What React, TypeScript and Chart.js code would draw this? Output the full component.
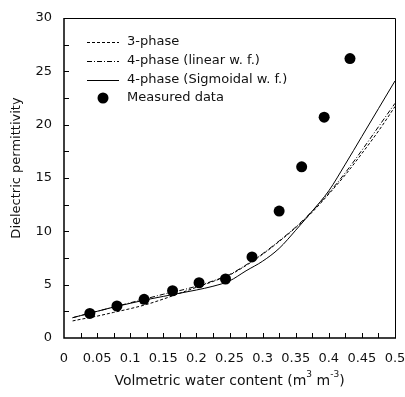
import React, { useEffect, useRef } from "react";
import { Chart, registerables } from "chart.js";

Chart.register(...registerables);

// ---- data ----
const curveTheta = [0.013, 0.025, 0.05, 0.075, 0.1, 0.125, 0.15, 0.175, 0.2, 0.225, 0.25, 0.275, 0.3, 0.325, 0.35, 0.375, 0.4, 0.425, 0.45, 0.475, 0.5];
const threePhase = [1.6, 1.75, 2.05, 2.4, 2.75, 3.15, 3.65, 4.2, 4.75, 5.3, 5.9, 6.8, 7.85, 9.05, 10.35, 11.8, 13.5, 15.3, 17.3, 19.4, 21.7];
const fourPhaseLinear = [1.9, 2.1, 2.5, 2.9, 3.3, 3.7, 4.1, 4.45, 4.85, 5.35, 5.95, 6.85, 7.9, 9.1, 10.4, 11.9, 13.6, 15.5, 17.6, 19.8, 22.0];
const fourPhaseSigmoidal = [1.9, 2.1, 2.5, 2.9, 3.25, 3.6, 3.9, 4.2, 4.5, 4.85, 5.35, 6.3, 7.2, 8.4, 10.1, 11.9, 13.8, 16.3, 18.9, 21.5, 24.1];
const measuredTheta = [0.039, 0.08, 0.121, 0.164, 0.204, 0.244, 0.284, 0.325, 0.359, 0.393, 0.432];
const measuredEps = [2.3, 3.0, 3.63, 4.43, 5.18, 5.53, 7.6, 11.9, 16.05, 20.7, 26.2];
const xTicks = [0, 0.05, 0.1, 0.15, 0.2, 0.25, 0.3, 0.35, 0.4, 0.45, 0.5];
const yTicks = [0, 5, 10, 15, 20, 25, 30];
const seriesLabels = ["3-phase", "4-phase (linear w. f.)", "4-phase (Sigmoidal w. f.)", "Measured data"];
const yTitle = "Dielectric permittivity";

const FONT = "'DejaVu Sans', sans-serif";
const dashes: number[][] = [[3, 2], [5, 2, 1, 2], []];

const decorPlugin = {
  id: "decor",
  afterDraw(chart: any) {
    const ctx = chart.ctx as CanvasRenderingContext2D;
    const { left, right, top, bottom } = chart.chartArea;
    const xs = chart.scales.x;
    const ys = chart.scales.y;
    ctx.save();
    ctx.strokeStyle = "#000";
    // box
    ctx.lineWidth = 1;
    ctx.beginPath();
    ctx.moveTo(left, top + 0.5);
    ctx.lineTo(right + 0.5, top + 0.5);
    ctx.lineTo(right + 0.5, bottom);
    ctx.stroke();
    ctx.lineWidth = 1.5;
    ctx.beginPath();
    ctx.moveTo(left, top);
    ctx.lineTo(left, bottom);
    ctx.lineTo(right + 1, bottom);
    ctx.stroke();
    // inward ticks
    ctx.lineWidth = 1;
    ctx.beginPath();
    for (let i = 0; i < xTicks.length; i++) {
      const vals = [xTicks[i]];
      if (i < xTicks.length - 1) vals.push((xTicks[i] + xTicks[i + 1]) / 2);
      for (const v of vals) {
        if (v === 0) continue;
        const px = Math.round(xs.getPixelForValue(v)) + 0.5;
        ctx.moveTo(px, bottom);
        ctx.lineTo(px, bottom - 5);
      }
    }
    for (let i = 0; i < yTicks.length; i++) {
      const vals = [yTicks[i]];
      if (i < yTicks.length - 1) vals.push((yTicks[i] + yTicks[i + 1]) / 2);
      for (const v of vals) {
        if (v === 0) continue;
        const py = Math.round(ys.getPixelForValue(v)) + 0.5;
        ctx.moveTo(left, py);
        ctx.lineTo(left + 5, py);
      }
    }
    ctx.stroke();

    // legend
    ctx.font = `13px ${FONT}`;
    ctx.fillStyle = "#111";
    ctx.textBaseline = "middle";
    ctx.textAlign = "left";
    const rowY = [42, 61, 79.5, 98];
    for (let i = 0; i < 4; i++) {
      const y = rowY[i];
      if (i < 3) {
        ctx.save();
        ctx.setLineDash(dashes[i]);
        ctx.lineWidth = 1;
        ctx.beginPath();
        ctx.moveTo(87, Math.round(y) + 0.5);
        ctx.lineTo(119, Math.round(y) + 0.5);
        ctx.stroke();
        ctx.restore();
      } else {
        ctx.beginPath();
        ctx.arc(103, y, 5.5, 0, Math.PI * 2);
        ctx.fillStyle = "#000";
        ctx.fill();
        ctx.fillStyle = "#111";
      }
      ctx.fillText(seriesLabels[i], 127, y);
    }

    // x title with superscripts
    const big = `14px ${FONT}`;
    const small = `9px ${FONT}`;
    const parts: [string, boolean][] = [["Volmetric water content (m", false], ["3", true], [" m", false], ["-3", true], [")", false]];
    let total = 0;
    for (const [t, s] of parts) {
      ctx.font = s ? small : big;
      total += ctx.measureText(t).width;
    }
    let cx = (left + right) / 2 - total / 2;
    const ty = 381;
    ctx.textAlign = "left";
    for (const [t, s] of parts) {
      ctx.font = s ? small : big;
      ctx.fillText(t, cx, s ? ty - 6 : ty);
      cx += ctx.measureText(t).width;
    }
    // y title
    ctx.save();
    ctx.translate(17, 168);
    ctx.rotate(-Math.PI / 2);
    ctx.font = `13px ${FONT}`;
    ctx.textAlign = "center";
    ctx.fillText(yTitle, 0, 0);
    ctx.restore();

    ctx.restore();
  },
};

function lineDataset(label: string, ys: number[], dash: number[]) {
  return {
    label,
    data: curveTheta.map((x, i) => ({ x, y: ys[i] })),
    showLine: true,
    borderColor: "#000",
    borderWidth: 1,
    borderDash: dash,
    pointRadius: 0,
    pointHoverRadius: 0,
    cubicInterpolationMode: "monotone" as const,
    fill: false,
  };
}

export default function App() {
  const ref = useRef<HTMLCanvasElement | null>(null);
  useEffect(() => {
    if (!ref.current) return;
    const chart = new Chart(ref.current, {
      type: "scatter",
      data: {
        datasets: [
          lineDataset(seriesLabels[0], threePhase, dashes[0]),
          lineDataset(seriesLabels[1], fourPhaseLinear, dashes[1]),
          lineDataset(seriesLabels[2], fourPhaseSigmoidal, dashes[2]),
          {
            label: seriesLabels[3],
            data: measuredTheta.map((x, i) => ({ x, y: measuredEps[i] })),
            showLine: false,
            pointRadius: 5.5,
            pointBackgroundColor: "#000",
            pointBorderColor: "#000",
            pointBorderWidth: 0,
          } as any,
        ],
      },
      options: {
        responsive: false,
        animation: false,
        layout: { padding: { left: 0, top: 18, right: 10, bottom: 0 } },
        plugins: { legend: { display: false }, tooltip: { enabled: false } },
        scales: {
          x: {
            type: "linear",
            min: 0,
            max: 0.5,
            afterBuildTicks: (s: any) => {
              s.ticks = xTicks.map((v) => ({ value: v }));
            },
            afterFit: (s: any) => {
              s.height = 59;
              s.paddingLeft = 0;
              s.paddingRight = 0;
            },
            grid: { display: false, drawTicks: false },
            border: { display: false },
            ticks: {
              padding: 13,
              color: "#111",
              font: { family: FONT, size: 13 },
              maxRotation: 0,
              autoSkip: false,
              callback: (v: any) => String(Number(Number(v).toFixed(3))),
            },
          },
          y: {
            type: "linear",
            min: 0,
            max: 30,
            afterBuildTicks: (s: any) => {
              s.ticks = yTicks.map((v) => ({ value: v }));
            },
            afterFit: (s: any) => {
              s.width = 64;
              s.paddingTop = 0;
              s.paddingBottom = 0;
            },
            grid: { display: false, drawTicks: false },
            border: { display: false },
            ticks: {
              padding: 12,
              color: "#111",
              font: { family: FONT, size: 13 },
              autoSkip: false,
              callback: (v: any) => String(v),
            },
          },
        },
      },
      plugins: [decorPlugin],
    });
    return () => chart.destroy();
  }, []);
  return (
    <div style={{ position: "fixed", left: 0, top: 0, width: 405, height: 397, background: "#fff" }}>
      <canvas ref={ref} width={405} height={397} style={{ display: "block" }} />
    </div>
  );
}
